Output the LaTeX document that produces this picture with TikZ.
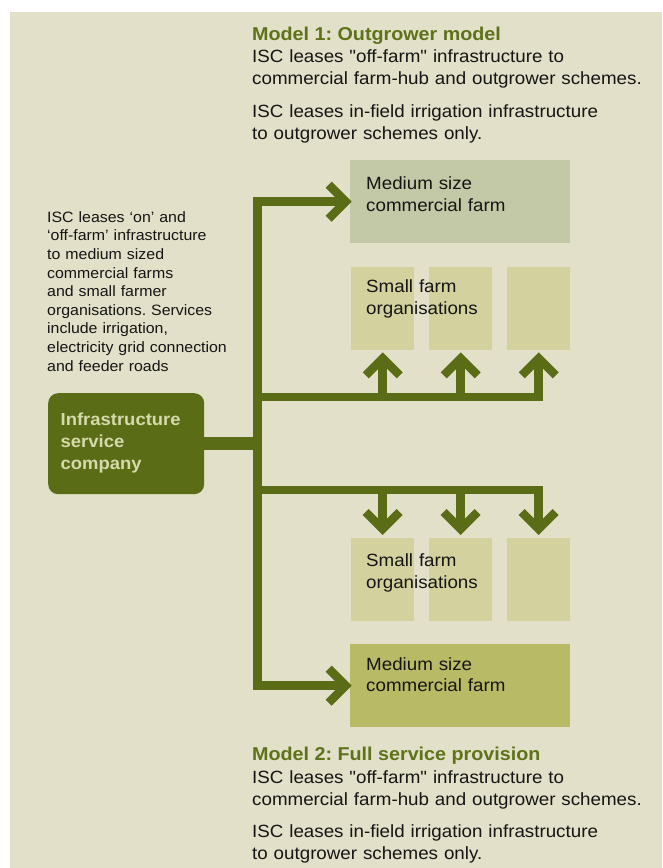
\documentclass[tikz,border=0pt]{standalone}
\usepackage{fontspec}
\setmainfont{Liberation Sans}[FakeStretch=1.06,Ligatures=TeXOff]
\usetikzlibrary{calc}
\definecolor{bg}{HTML}{E2E0C8}
\definecolor{grn}{HTML}{5B6C17}
\definecolor{ttl}{HTML}{5E7219}
\definecolor{isctext}{HTML}{D5DAAA}
\definecolor{medtop}{HTML}{C3C8A6}
\definecolor{small}{HTML}{D3D29F}
\definecolor{medbot}{HTML}{B8BA66}
\definecolor{txt}{HTML}{151515}
\frenchspacing
\begin{document}
\begin{tikzpicture}[x=1pt,y=-1pt,
  conn/.style={line width=8.5pt, draw=grn, line cap=butt, line join=miter},
  chev/.style={line width=8.5pt, draw=grn, line cap=butt, line join=miter},
  title/.style={anchor=base west, inner sep=0pt, text=ttl, font=\fontsize{18.6}{22}\selectfont\bfseries},
  body/.style={anchor=base west, inner sep=0pt, text width=420pt, align=left, text=txt, font=\fontsize{17.7}{22}\selectfont},
  side/.style={anchor=base west, inner sep=0pt, text width=200pt, align=left, text=txt, font=\fontsize{15}{18.6}\selectfont},
  boxtext/.style={anchor=base west, inner sep=0pt, text width=200pt, align=left, text=txt, font=\fontsize{17.7}{21.7}\selectfont},
  isctxt/.style={anchor=base west, inner sep=0pt, text width=150pt, align=left, text=isctext, font=\fontsize{17.4}{22.2}\selectfont\bfseries},
  farm/.style={anchor=north west, inner sep=0pt, draw=none, minimum height=83pt},
]
\useasboundingbox (0,0) rectangle (662,868);
\fill[white] (0,0) rectangle (662,868);
\fill[bg] (10,12) rectangle (662,868);

% texts model 1
\node[title] (t1) at (252,40.7) {Model 1: Outgrower model};
\node[body] (p1a) at (252,62.7) {ISC leases "off-farm" infrastructure to\\commercial farm-hub and outgrower schemes.};
\node[body] (p1b) at (252,117.7) {ISC leases in-field irrigation infrastructure\\to outgrower schemes only.};

% side text
\node[side] (side) at (47,222.3) {ISC leases ‘on’ and\\‘off-farm’ infrastructure\\to medium sized\\commercial farms\\and small farmer\\organisations. Services\\include irrigation,\\electricity grid connection\\and feeder roads};

% boxes
\node[farm, fill=medtop, minimum width=220pt] (m1) at (350,160) {};
\node[farm, fill=small, minimum width=63pt] (sf1a) at (351,267) {};
\node[farm, fill=small, minimum width=63pt] (sf1b) at (429,267) {};
\node[farm, fill=small, minimum width=63pt] (sf1c) at (507,267) {};
\node[farm, fill=small, minimum width=63pt] (sf2a) at (351,538) {};
\node[farm, fill=small, minimum width=63pt] (sf2b) at (429,538) {};
\node[farm, fill=small, minimum width=63pt] (sf2c) at (507,538) {};
\node[farm, fill=medbot, minimum width=220pt] (m2) at (350,644) {};

\node[boxtext] (m1t) at (366,189.3) {Medium size\\commercial farm};
\node[boxtext] (sf1t) at (366,292.7) {Small farm\\organisations};
\node[boxtext] (sf2t) at (366,566.7) {Small farm\\organisations};
\node[boxtext] (m2t) at (366,670) {Medium size\\commercial farm};

% ISC box
\node[anchor=north west, inner sep=0pt, fill=grn, rounded corners=10pt, minimum width=156pt, minimum height=101pt] (isc) at (48,393) {};
\node[isctxt] (isct) at (60.5,425) {Infrastructure\\service\\company};

% connectors
\coordinate (spine) at (257.5,0);
\coordinate (h1) at (257.5,397);
\coordinate (h2) at (257.5,490);
\coordinate (v1) at ($(m1.west)+(-4.3,0)$);
\coordinate (v2) at ($(m2.west)+(-4.3,0)$);

\draw[grn, line width=13pt] (isc.east) -- (spine |- isc.east);
\draw[conn] (v1) -- (spine |- v1) -- (spine |- v2) -- (v2);
\draw[chev] ($(v1)+(-17,-17)$) -- (v1) -- ($(v1)+(-17,17)$);
\draw[chev] ($(v2)+(-17,-17)$) -- (v2) -- ($(v2)+(-17,17)$);

% model 1 up arrows
\coordinate (u1) at ($(sf1a.south)+(0,8)$);
\coordinate (u2) at ($(sf1b.south)+(0,8)$);
\coordinate (u3) at ($(sf1c.south)+(0,8)$);
\draw[conn] (h1) -- (u3 |- h1) -- (u3);
\draw[conn] (u1 |- h1) -- (u1);
\draw[conn] (u2 |- h1) -- (u2);
\foreach \p in {u1,u2,u3}{
  \draw[chev] ($(\p)+(-17,17)$) -- (\p) -- ($(\p)+(17,17)$);
}

% model 2 down arrows
\coordinate (d1) at ($(sf2a.north)+(0,-9)$);
\coordinate (d2) at ($(sf2b.north)+(0,-9)$);
\coordinate (d3) at ($(sf2c.north)+(0,-9)$);
\draw[conn] (h2) -- (d3 |- h2) -- (d3);
\draw[conn] (d1 |- h2) -- (d1);
\draw[conn] (d2 |- h2) -- (d2);
\foreach \p in {d1,d2,d3}{
  \draw[chev] ($(\p)+(-17,-17)$) -- (\p) -- ($(\p)+(17,-17)$);
}

% texts model 2
\node[title] (t2) at (252,760.7) {Model 2: Full service provision};
\node[body] (p2a) at (252,783.3) {ISC leases "off-farm" infrastructure to\\commercial farm-hub and outgrower schemes.};
\node[body] (p2b) at (252,837.7) {ISC leases in-field irrigation infrastructure\\to outgrower schemes only.};
\end{tikzpicture}
\end{document}
